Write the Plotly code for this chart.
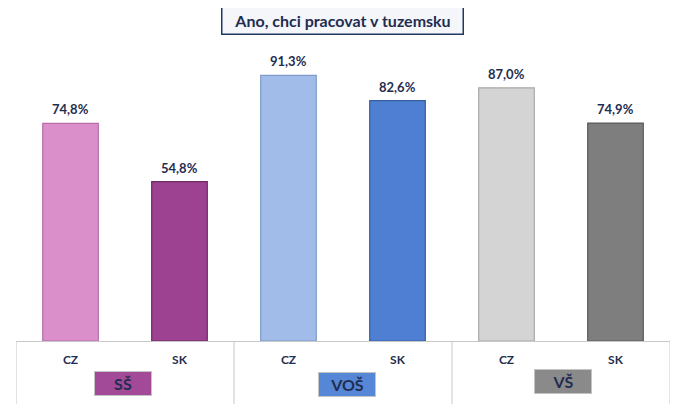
import plotly.graph_objects as go

groups = ["SŠ", "VOŠ", "VŠ"]
countries = ["CZ", "SK", "CZ", "SK", "CZ", "SK"]
values = [74.8, 54.8, 91.3, 82.6, 87.0, 74.9]
colors = ["#DA8FCB", "#9C4291", "#A2BCEA", "#4F7FD2", "#D4D4D4", "#7E7E7E"]
edges = ["#B86FA9", "#6E2A66", "#7F9BCB", "#35609F", "#A8A8A8", "#5A5A5A"]
group_colors = ["#A24A97", "#5686D6", "#8A8A8A"]
title_text = "Ano, chci pracovat v tuzemsku"

navy = "#1F2D50"
font_family = "Lato, 'Open Sans', sans-serif"

xs = list(range(len(values)))
labels = [f"{v:.1f}%".replace(".", ",") for v in values]

fig = go.Figure()
fig.add_trace(go.Bar(
    x=xs, y=values, width=0.51,
    marker=dict(color=colors, line=dict(color=edges, width=1.2)),
    showlegend=False, hoverinfo="skip",
))

shapes = []
for b in [-0.5, 1.5, 3.5, 5.5]:
    shapes.append(dict(type="line", xref="x", yref="paper", x0=b, x1=b, y0=0, y1=-0.25,
                       line=dict(color="#C8C8C8", width=1)))

annotations = []
for x, v, t in zip(xs, values, labels):
    annotations.append(dict(
        x=x, y=v, xref="x", yref="y", text="<b>" + t + "</b>", showarrow=False,
        xanchor="center", yanchor="middle", yshift=14,
        font=dict(family=font_family, size=13, color=navy),
    ))

# plot area (page px): x 16..670, y 50..341
PX0, PW, PY0, PH = 16, 654, 341, 291

annotations.append(dict(
    text="<b>" + title_text + "</b>", xref="paper", yref="paper",
    x=(342 - PX0) / PW, y=(PY0 - 21) / PH,
    xanchor="center", yanchor="middle",
    showarrow=False, font=dict(family=font_family, size=16, color=navy),
    bgcolor="#F4F6FA", bordercolor="#1F3864", borderwidth=1.5, borderpad=3,
    width=234, height=20,
))
group_px = [122.5, 347, 562.5]
group_py = [383.5, 384, 381]
for g, c, px, py in zip(groups, group_colors, group_px, group_py):
    annotations.append(dict(
        text="<b>" + g + "</b>", xref="paper", yref="paper",
        x=(px - PX0) / PW, y=(PY0 - py) / PH, xanchor="center", yanchor="middle",
        showarrow=False,
        font=dict(family=font_family, size=16, color=navy),
        bgcolor=c, bordercolor="#C4C4C4", borderwidth=1, width=54, height=21,
    ))

fig.update_layout(
    width=677, height=396,
    margin=dict(l=8, r=15, t=42, b=63),
    paper_bgcolor="white", plot_bgcolor="white",
    xaxis=dict(range=[-0.5, 5.5], tickvals=xs, ticktext=countries, showgrid=False,
               zeroline=False, showline=True, linecolor="#C8C8C8", linewidth=1,
               ticks="", ticklabelstandoff=8,
               tickfont=dict(family=font_family, size=12, color=navy, weight="bold"),
               fixedrange=True),
    yaxis=dict(range=[0, 100], visible=False, fixedrange=True),
    shapes=shapes, annotations=annotations,
)

fig.write_html("out.html")
